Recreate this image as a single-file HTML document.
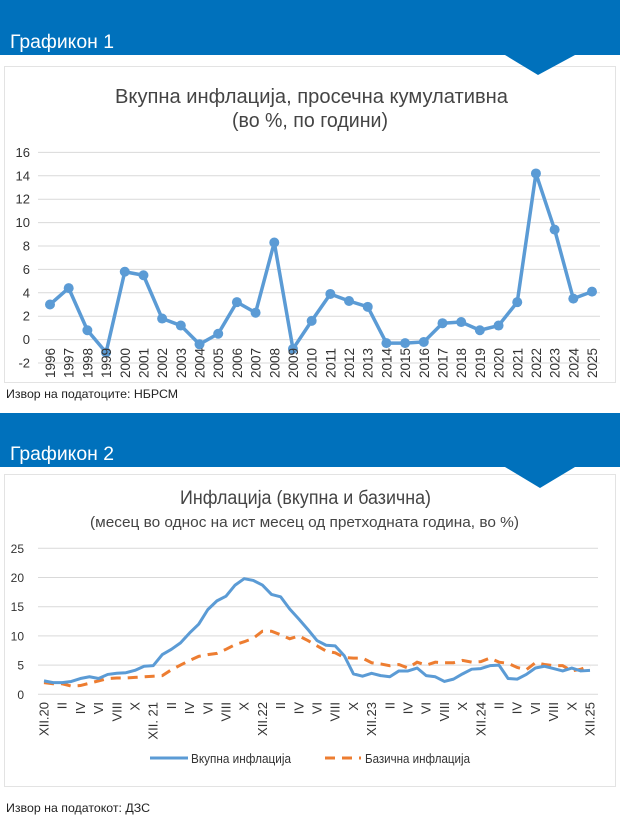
<!DOCTYPE html>
<html><head><meta charset="utf-8"><style>
body{margin:0;width:620px;height:820px;background:#fff;font-family:"Liberation Sans",sans-serif;overflow:hidden}
svg{display:block}
</style></head><body>
<svg id="s" width="620" height="820" xmlns="http://www.w3.org/2000/svg" font-family="Liberation Sans, sans-serif">
<rect x="0" y="0" width="620" height="55" fill="#0071bc"/>
<text x="10" y="48" font-size="19" fill="#fff" textLength="104" lengthAdjust="spacingAndGlyphs">Графикон 1</text>
<rect x="4.5" y="66.5" width="611" height="316" fill="none" stroke="#e3e3e3"/>
<polygon points="505,55 575,55 538,75" fill="#0071bc"/>
<text x="115" y="103" font-size="20" fill="#444" textLength="393" lengthAdjust="spacingAndGlyphs">Вкупна инфлација, просечна кумулативна</text>
<text x="232" y="127" font-size="20" fill="#444" textLength="156" lengthAdjust="spacingAndGlyphs">(во %, по години)</text>
<text x="6" y="398" font-size="12" fill="#222" textLength="172" lengthAdjust="spacingAndGlyphs">Извор на податоците: НБРСМ</text>

<rect x="0" y="413" width="620" height="54" fill="#0071bc"/>
<text x="10" y="460" font-size="19" fill="#fff" textLength="104" lengthAdjust="spacingAndGlyphs">Графикон 2</text>
<rect x="4.5" y="474.5" width="611" height="312" fill="none" stroke="#e3e3e3"/>
<polygon points="505,467 575,467 540,488" fill="#0071bc"/>
<text x="180" y="504" font-size="19" fill="#444" textLength="251" lengthAdjust="spacingAndGlyphs">Инфлација (вкупна и базична)</text>
<text x="90" y="527" font-size="15" fill="#444" textLength="429" lengthAdjust="spacingAndGlyphs">(месец во однос на ист месец од претходната година, во %)</text>
<text x="6" y="812" font-size="12" fill="#222" textLength="144" lengthAdjust="spacingAndGlyphs">Извор на податокот: ДЗС</text>
<g id="g"></g>
</svg>
<script>
var g=document.getElementById('g'),h='';
var d1=[3.0,4.4,0.8,-1.1,5.8,5.5,1.8,1.2,-0.4,0.5,3.2,2.3,8.3,-0.8,1.6,3.9,3.3,2.8,-0.3,-0.3,-0.2,1.4,1.5,0.8,1.2,3.2,14.2,9.4,3.5,4.1];
function y1(v){return 339.6-v*11.7}
for(var v=-2;v<=16;v+=2){var y=y1(v);h+='<line x1="38" x2="600" y1="'+y+'" y2="'+y+'" stroke="#d9d9d9"/>';h+='<text x="30" y="'+(y+4.5)+'" font-size="13" fill="#333" text-anchor="end">'+v+'</text>';}
var X1=50,S1=18.69;
var p='';d1.forEach(function(v,i){p+=(i?'L':'M')+(X1+i*S1)+','+y1(v)});
h+='<path d="'+p+'" fill="none" stroke="#5b9bd5" stroke-width="3.5" stroke-linejoin="round"/>';
d1.forEach(function(v,i){var x=X1+i*S1;h+='<circle cx="'+x+'" cy="'+y1(v)+'" r="5" fill="#5b9bd5"/>';
h+='<text transform="translate('+(x+5)+',348) rotate(-90)" font-size="14" fill="#333" text-anchor="end" textLength="30" lengthAdjust="spacingAndGlyphs">'+(1996+i)+'</text>';});
var a=[2.3,2.0,2.0,2.2,2.7,3.0,2.7,3.4,3.6,3.7,4.1,4.8,4.9,6.8,7.7,8.8,10.5,12.0,14.5,16.0,16.8,18.7,19.8,19.5,18.7,17.1,16.7,14.6,12.9,11.1,9.2,8.4,8.3,6.6,3.5,3.1,3.6,3.2,3.0,4.0,4.0,4.5,3.2,3.0,2.2,2.6,3.5,4.3,4.4,4.9,5.0,2.7,2.6,3.4,4.5,4.8,4.4,4.0,4.5,4.0,4.1];
var b=[2.0,1.8,1.8,1.4,1.5,1.9,2.3,2.7,2.8,2.8,2.9,3.0,3.1,3.2,4.2,5.0,5.8,6.5,6.8,7.0,7.7,8.5,9.0,9.6,10.8,10.8,10.2,9.5,10.0,9.2,8.3,7.4,7.1,6.3,6.2,6.2,5.4,5.2,4.9,5.1,4.5,5.5,5.0,5.5,5.4,5.4,5.8,5.5,5.6,6.2,5.5,5.3,4.6,4.2,5.4,5.1,4.9,4.9,4.0,4.3,4.9];
function y2(v){return 694.3-v*5.84}
var X2=44,S2=9.1;
for(var v=0;v<=25;v+=5){var y=y2(v);h+='<line x1="38" x2="598" y1="'+y+'" y2="'+y+'" stroke="#d9d9d9"/>';h+='<text x="24" y="'+(y+4.5)+'" font-size="12" fill="#333" text-anchor="end">'+v+'</text>';}
var pa='',pb='';a.forEach(function(v,i){pa+=(i?'L':'M')+(X2+i*S2)+','+y2(v)});b.forEach(function(v,i){pb+=(i?'L':'M')+(X2+i*S2)+','+y2(v)});
h+='<path d="'+pb+'" fill="none" stroke="#ed7d31" stroke-width="3" stroke-dasharray="10,7"/>';
h+='<path d="'+pa+'" fill="none" stroke="#5b9bd5" stroke-width="3" stroke-linejoin="round"/>';
var L=['XII.20','II','IV','VI','VIII','X','XII. 21','II','IV','VI','VIII','X','XII.22','II','IV','VI','VIII','X','XII.23','II','IV','VI','VIII','X','XII.24','II','IV','VI','VIII','X','XII.25'];
L.forEach(function(t,k){var x=X2+k*2*S2;h+='<text transform="translate('+(x+4.5)+',702) rotate(-90)" font-size="13" fill="#333" text-anchor="end">'+t+'</text>';});
h+='<line x1="150" x2="188" y1="758" y2="758" stroke="#5b9bd5" stroke-width="3"/><text x="191" y="763" font-size="13" fill="#333" textLength="100" lengthAdjust="spacingAndGlyphs">Вкупна инфлација</text>';
h+='<line x1="325" x2="361" y1="758" y2="758" stroke="#ed7d31" stroke-width="3" stroke-dasharray="10,7"/><text x="365" y="763" font-size="13" fill="#333" textLength="105" lengthAdjust="spacingAndGlyphs">Базична инфлација</text>';
g.innerHTML=h;
</script>
</body></html>
